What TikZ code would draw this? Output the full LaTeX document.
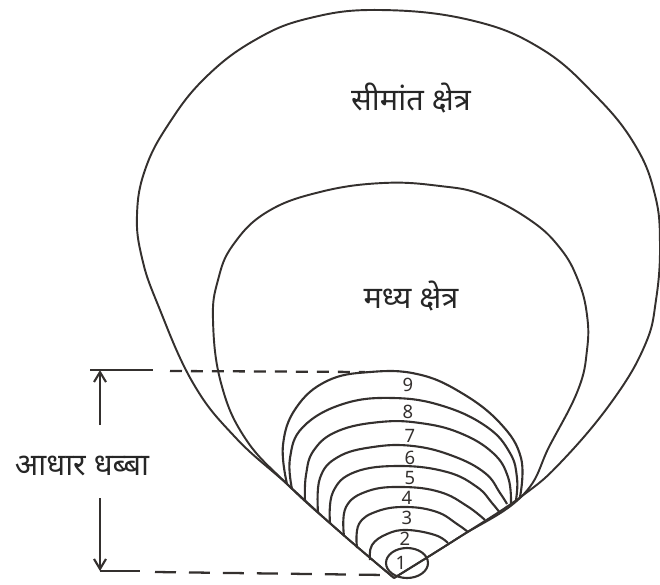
\documentclass[tikz,border=0pt]{standalone}
\usepackage{fontspec}
\setmainfont{Noto Sans}[Script=Devanagari]
\usepackage{tikz}
\usetikzlibrary{arrows.meta}
\definecolor{InkGray}{RGB}{52,48,46}

\tikzset{
  zoneline/.style={InkGray,line width=1.1pt,line join=round},
  loopline/.style={InkGray,line width=1.2pt},
  guideline/.style={InkGray,line width=1.3pt},
  dimarrow/.style={InkGray,line width=1.2pt,-{Straight Barb[length=0.2cm,width=0.24cm]}},
  zonelbl/.style={text=black!85,font=\fontsize{17.5}{20}\selectfont,inner sep=0pt},
  ringnum/.style={InkGray,font=\fontsize{10.5}{11}\selectfont\bfseries,inner sep=0pt}
}

\begin{document}
\begin{tikzpicture}[x=0.02cm,y=-0.02cm]
        \useasboundingbox (0,0) rectangle (660,585);
        % marginal zone
        \draw[zoneline] plot[smooth,tension=0.7] coordinates {
            (394,578) (340,532) (287,484) (235,437) (193,383) (158,305)
            (142,258) (137,215) (145,170) (168,125) (205,78) (255,40)
            (310,18) (380,10) (470,20) (540,48) (595,95) (635,145)
            (655,195) (660,245) (656,300) (645,345) (613,400) (563,460)
            (522,496) (458,538) (394,578)};
        % middle zone
        \draw[zoneline] plot[smooth,tension=0.7] coordinates {
            (394,578) (340,532) (287,484) (245,438) (221,383) (213,320)
            (218,280) (233,245) (267,212) (320,192) (383,183) (440,186)
            (483,195) (530,220) (560,248) (578,280) (587,315) (587,350)
            (578,390) (550,445) (522,496) (458,538) (394,578)};
        % base spot rings
        \draw[loopline] plot[smooth,tension=0.7] coordinates {
            (287,484) (283,445) (296,408) (327,381) (370,372) (417,374)
            (460,392) (500,423) (521,458) (520,497)};
        \draw[loopline] plot[smooth,tension=0.7] coordinates {
            (292,489) (290,458) (303,427) (343,404) (393,398) (443,406)
            (487,427) (510,453) (517,478) (516,500)};
        \draw[loopline] plot[smooth,tension=0.7] coordinates {
            (305,501) (306,475) (314,450) (338,431) (380,422) (420,423)
            (460,433) (493,453) (508,477) (511,503)};
        \draw[loopline] plot[smooth,tension=0.7] coordinates {
            (318,512) (320,478) (338,457) (373,447) (413,446) (453,456)
            (485,473) (500,493) (507,504)};
        \draw[loopline] plot[smooth,tension=0.7] coordinates {
            (330,523) (333,492) (355,472) (400,466) (447,472) (477,487)
            (492,503) (500,513)};
        \draw[loopline] plot[smooth,tension=0.7] coordinates {
            (344,536) (346,507) (368,491) (403,487) (440,492) (467,506)
            (485,520)};
        \draw[loopline] plot[smooth,tension=0.7] coordinates {
            (357,548) (359,524) (378,511) (407,507) (437,512) (457,524)
            (468,532)};
        \draw[loopline] plot[smooth,tension=0.7] coordinates {
            (370,560) (372,545) (387,534) (407,530) (435,535) (448,543)};
        \draw[loopline] (407,563) ellipse [x radius=21,y radius=15];
        % ring numbers
        \node[ringnum] (ring1) at (401,563) {1};
        \node[ringnum] (ring2) at (405,539) {2};
        \node[ringnum] (ring3) at (407,518) {3};
        \node[ringnum] (ring4) at (407,498) {4};
        \node[ringnum] (ring5) at (410,478) {5};
        \node[ringnum] (ring6) at (410,458) {6};
        \node[ringnum] (ring7) at (410,436) {7};
        \node[ringnum] (ring8) at (408,412) {8};
        \node[ringnum] (ring9) at (408,385) {9};
        % zone labels
        \node[zonelbl] (marginlbl) at (411,98) {सीमांत क्षेत्र};
        \node[zonelbl] (middlelbl) at (411,296) {मध्य क्षेत्र};
        \node[zonelbl] (baselbl) at (82,466) {आधार धब्बा};
        % height of the base spot
        \coordinate (dimtop) at (100,370);
        \coordinate (dimbot) at (100,571);
        \coordinate (uptail) at (100,425);
        \coordinate (downtail) at (100,498);
        \draw[guideline] (90,370) -- (153,370);
        \draw[guideline,dash pattern=on 0.24cm off 0.18cm] (170,371) -- (365,372);
        \draw[guideline] (dimbot) -- (140,571);
        \draw[guideline,dash pattern=on 0.42cm off 0.26cm] (155,572) -- (385,575);
        \draw[dimarrow] (uptail) -- (dimtop);
        \draw[dimarrow] (downtail) -- (dimbot);
      \end{tikzpicture}
\end{document}
